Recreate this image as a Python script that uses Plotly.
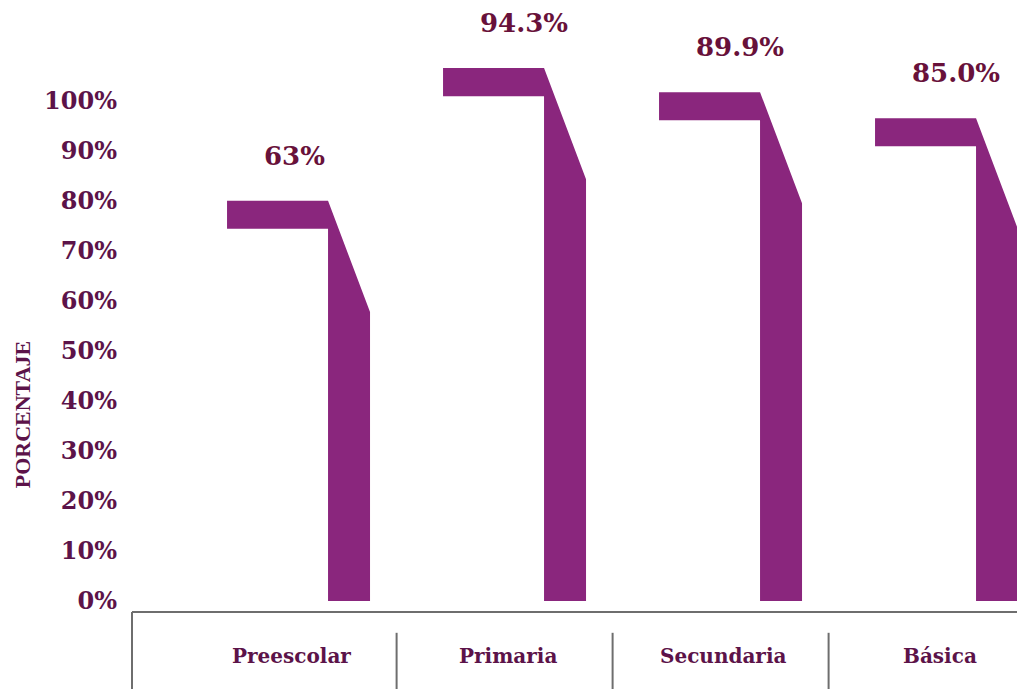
import plotly.graph_objects as go

# datos
niveles = ["Preescolar", "Primaria", "Secundaria", "Básica"]
porcentajes = [63, 94.3, 89.9, 85.0]
etiquetas = ["63%", "94.3%", "89.9%", "85.0%"]
# altura superior del "remate" de cada barra (en % del eje)
tope = [79.9, 106.4, 101.6, 96.4]
ticks_y = [0, 10, 20, 30, 40, 50, 60, 70, 80, 90, 100]

morado = "#8a267d"
texto = "#5c1349"
texto_val = "#68113a"
gris = "#6e6e6e"

# geometria (en unidades de categoria)
ancho_remate = 0.4676
ancho_barra = 0.1944
grosor = 5.6
caida = 22.2

fig = go.Figure()

for i, (nom, t) in enumerate(zip(niveles, tope)):
    bl = i + ancho_remate
    br = bl + ancho_barra
    xs = [i, bl, br, br, bl, bl, i, i]
    ys = [t, t, t - caida, 0, 0, t - grosor, t - grosor, t]
    fig.add_trace(go.Scatter(
        x=xs, y=ys, mode="lines", fill="toself",
        fillcolor=morado, line=dict(width=0, color=morado),
        hoverinfo="skip", showlegend=False, name=nom,
    ))

# etiquetas de valor
for i, (t, lab) in enumerate(zip(tope, etiquetas)):
    fig.add_annotation(
        x=i + 0.162, y=t + 9, text=lab, showarrow=False,
        xanchor="left", yanchor="middle",
        font=dict(family="DejaVu Serif", size=26, color=texto_val, weight="bold"),
    )

# etiquetas de categoria
for i, nom in enumerate(niveles):
    fig.add_annotation(
        x=i + 0.30, y=-0.072, yref="paper", text=nom, showarrow=False,
        xanchor="center", yanchor="middle",
        font=dict(family="DejaVu Serif", size=20, color=texto, weight="bold"),
    )

# linea base y separadores
fig.add_shape(type="line", xref="paper", yref="paper", x0=0, x1=1, y0=0, y1=0,
              line=dict(color=gris, width=2))
fig.add_shape(type="line", xref="paper", yref="paper", x0=0, x1=0, y0=0, y1=-0.13,
              line=dict(color=gris, width=2))
for i in range(3):
    fig.add_shape(type="line", xref="x", yref="paper", x0=i + 0.785, x1=i + 0.785,
                  y0=-0.034, y1=-0.13, line=dict(color=gris, width=2))

fig.update_layout(
    width=1017, height=689,
    margin=dict(l=132, r=0, t=0, b=77),
    plot_bgcolor="white", paper_bgcolor="white",
    xaxis=dict(range=[-0.44, -0.44 + 885 / 216], showgrid=False, zeroline=False,
               showticklabels=False, showline=False, fixedrange=True),
    yaxis=dict(range=[-2.2, 120], showgrid=False, zeroline=False, showline=False,
               tickvals=ticks_y, ticktext=[f"{v}%" for v in ticks_y],
               ticks="", ticklabelstandoff=14,
               tickfont=dict(family="DejaVu Serif", size=24, color=texto, weight="bold"),
               fixedrange=True),
)

fig.add_annotation(
    x=-0.124, xref="paper", y=0.3235, yref="paper", text="PORCENTAJE", showarrow=False,
    xanchor="center", yanchor="middle", textangle=-90,
    font=dict(family="Liberation Serif", size=22, color=texto, weight="bold"),
)

fig.write_html("out.html", config={"displayModeBar": False},
               post_script="document.body.style.margin='0';")
